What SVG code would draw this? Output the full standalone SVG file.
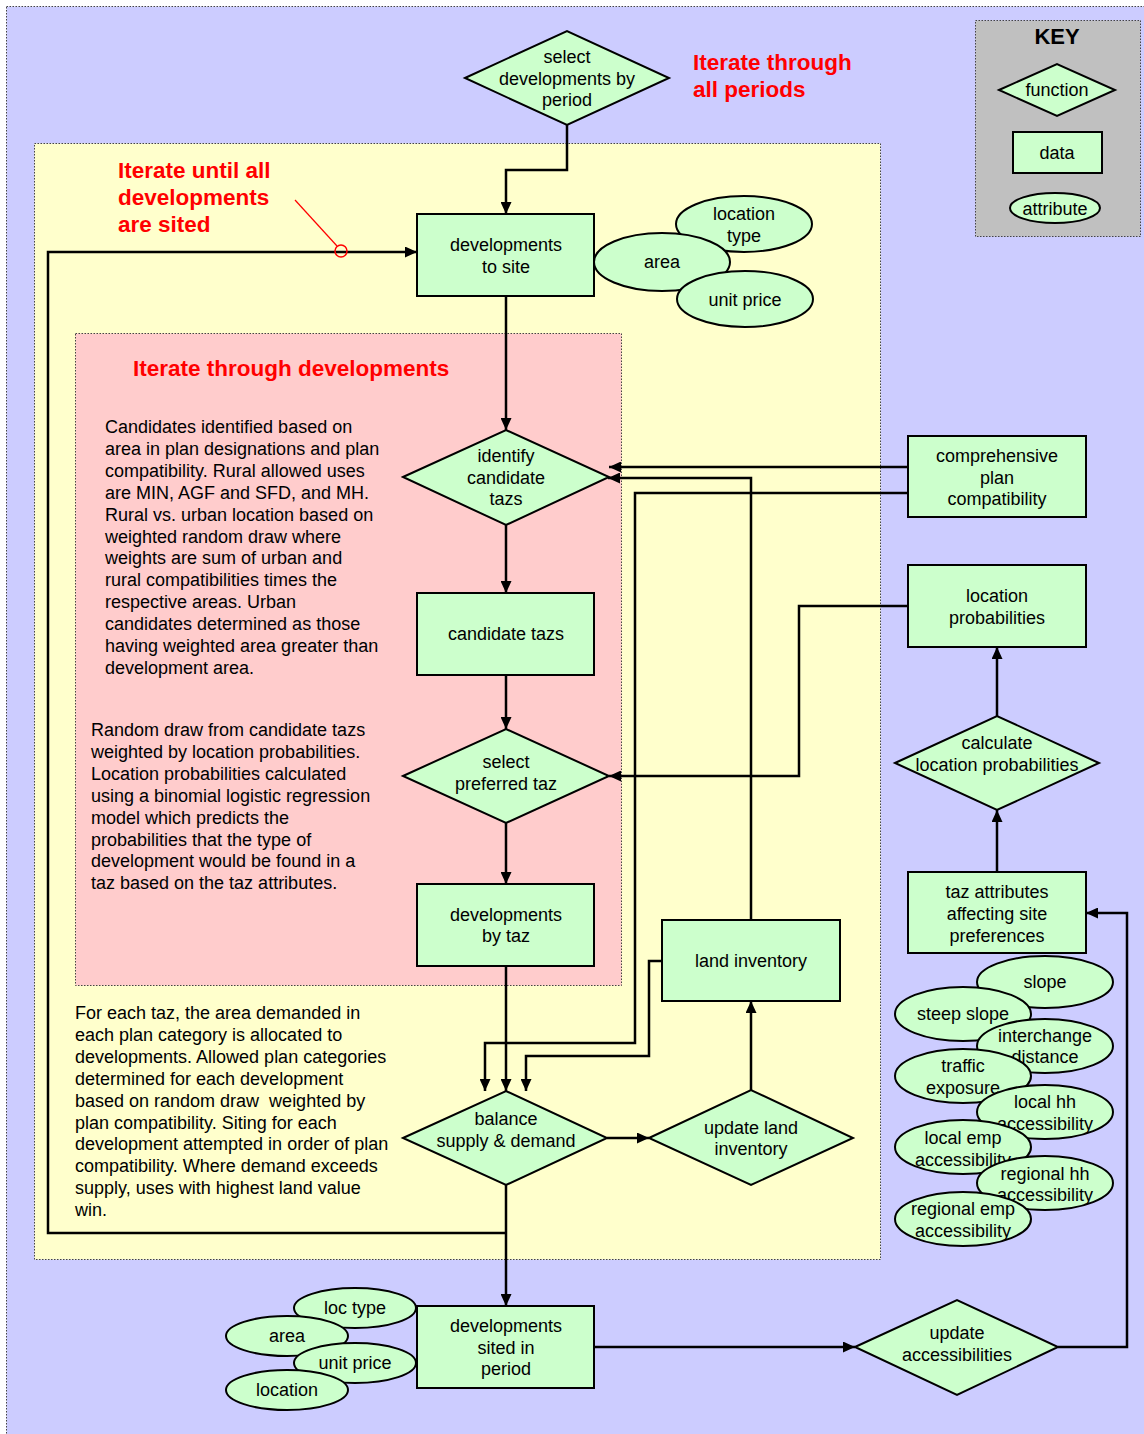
<svg xmlns="http://www.w3.org/2000/svg" width="1144" height="1434" viewBox="0 0 1144 1434">
<style>
text{font-family:"Liberation Sans",Arial,sans-serif;font-size:18px;fill:#000}
.c{text-anchor:middle}
.red{fill:#ff0000;font-weight:bold;font-size:22.5px}
.key{font-weight:bold;font-size:22px}
.n{fill:#ccffcc;stroke:#000;stroke-width:2}
.e{fill:#ccffcc;stroke:#000;stroke-width:2}
.zone{stroke:#444;stroke-width:1;stroke-dasharray:1.5 1.5}
.conn path{fill:none;stroke:#000;stroke-width:2.5}
.arr{marker-end:url(#ah)}
</style>
<defs>
<marker id="ah" viewBox="0 0 12 11" refX="12" refY="5.5" markerWidth="12" markerHeight="11" markerUnits="userSpaceOnUse" orient="auto">
<path d="M0,0 L12,5.5 L0,11 z" fill="#000"/>
</marker>
</defs>
<rect width="1144" height="1434" fill="#fff"/>
<rect class="zone" x="6.5" y="6.5" width="1150" height="1440" fill="#ccccff"/>
<rect class="zone" x="34.5" y="143.5" width="846" height="1116" fill="#ffffcc"/>
<rect class="zone" x="75.5" y="333.5" width="546" height="652" fill="#ffcccc"/>

<g id="key">
<rect class="zone" x="975.5" y="20.5" width="165" height="216" fill="#c0c0c0"/>
<text class="c key" x="1057" y="44">KEY</text>
<polygon class="n" points="999,90 1057,64 1115,90 1057,116"/>
<text class="c" x="1057" y="96">function</text>
<rect class="n" x="1013" y="132" width="89" height="41"/>
<text class="c" x="1057" y="159">data</text>
<ellipse class="e" cx="1055" cy="208" rx="45" ry="15"/>
<text class="c" x="1055" y="215">attribute</text>
</g>

<g id="labels">
<text class="red" x="693" y="70">Iterate through</text>
<text class="red" x="693" y="97">all periods</text>
<text class="red" x="118" y="178">Iterate until all</text>
<text class="red" x="118" y="205">developments</text>
<text class="red" x="118" y="232">are sited</text>
<text class="red" x="133" y="376">Iterate through developments</text>
<path d="M295,200 L337,246" stroke="#ff0000" stroke-width="1.2" fill="none"/>
</g>

<g id="notes">
<text x="105" y="433"><tspan x="105">Candidates identified based on</tspan><tspan x="105" dy="21.9">area in plan designations and plan</tspan><tspan x="105" dy="21.9">compatibility. Rural allowed uses</tspan><tspan x="105" dy="21.9">are MIN, AGF and SFD, and MH.</tspan><tspan x="105" dy="21.9">Rural vs. urban location based on</tspan><tspan x="105" dy="21.9">weighted random draw where</tspan><tspan x="105" dy="21.9">weights are sum of urban and</tspan><tspan x="105" dy="21.9">rural compatibilities times the</tspan><tspan x="105" dy="21.9">respective areas. Urban</tspan><tspan x="105" dy="21.9">candidates determined as those</tspan><tspan x="105" dy="21.9">having weighted area greater than</tspan><tspan x="105" dy="21.9">development area.</tspan></text>
<text x="91" y="736"><tspan x="91">Random draw from candidate tazs</tspan><tspan x="91" dy="21.9">weighted by location probabilities.</tspan><tspan x="91" dy="21.9">Location probabilities calculated</tspan><tspan x="91" dy="21.9">using a binomial logistic regression</tspan><tspan x="91" dy="21.9">model which predicts the</tspan><tspan x="91" dy="21.9">probabilities that the type of</tspan><tspan x="91" dy="21.9">development would be found in a</tspan><tspan x="91" dy="21.9">taz based on the taz attributes.</tspan></text>
<text x="75" y="1019"><tspan x="75">For each taz, the area demanded in</tspan><tspan x="75" dy="21.9">each plan category is allocated to</tspan><tspan x="75" dy="21.9">developments. Allowed plan categories</tspan><tspan x="75" dy="21.9">determined for each development</tspan><tspan x="75" dy="21.9" xml:space="preserve">based on random draw  weighted by</tspan><tspan x="75" dy="21.9">plan compatibility. Siting for each</tspan><tspan x="75" dy="21.9">development attempted in order of plan</tspan><tspan x="75" dy="21.9">compatibility. Where demand exceeds</tspan><tspan x="75" dy="21.9">supply, uses with highest land value</tspan><tspan x="75" dy="21.9">win.</tspan></text>
</g>

<g id="connectors" class="conn">
<path class="arr" d="M567,125 V170 H506 V214"/>
<path class="arr" d="M506,1233 H48 V252 H417"/>
<path class="arr" d="M506,296 V430"/>
<path class="arr" d="M506,525 V593"/>
<path class="arr" d="M506,675 V729"/>
<path class="arr" d="M506,823 V884"/>
<path class="arr" d="M506,966 V1091"/>
<path class="arr" d="M908,467 H609"/>
<path class="arr" d="M908,493 H635 V1043 H485 V1091"/>
<path class="arr" d="M751,920 V478 H608"/>
<path class="arr" d="M662,961 H649 V1056 H526 V1091"/>
<path class="arr" d="M607,1138 H649"/>
<path class="arr" d="M751,1090 V1001"/>
<path class="arr" d="M908,606 H799 V776 H609"/>
<path class="arr" d="M997,716 V647"/>
<path class="arr" d="M997,872 V810"/>
<path class="arr" d="M506,1185 V1306"/>
<path class="arr" d="M594,1347 H855"/>
<path class="arr" d="M1058,1347 H1127 V913 H1086"/>
</g>
<circle cx="341" cy="251" r="6" fill="none" stroke="#ff0000" stroke-width="1.5"/>

<g id="select-developments">
<polygon class="n" points="465,78 567,31 669,78 567,125"/>
<text class="c" x="567" y="63">select</text>
<text class="c" x="567" y="85">developments by</text>
<text class="c" x="567" y="106">period</text>
</g>

<g id="developments-to-site">
<rect class="n" x="417" y="214" width="177" height="82"/>
<text class="c" x="506" y="251">developments</text>
<text class="c" x="506" y="273">to site</text>
</g>
<g id="attr-location-type">
<ellipse class="e" cx="744" cy="224" rx="68" ry="28"/>
<text class="c" x="744" y="220">location</text>
<text class="c" x="744" y="242">type</text>
</g>
<g id="attr-area">
<ellipse class="e" cx="662" cy="262" rx="68" ry="29"/>
<text class="c" x="662" y="268">area</text>
</g>
<g id="attr-unit-price">
<ellipse class="e" cx="745" cy="299" rx="68" ry="28"/>
<text class="c" x="745" y="306">unit price</text>
</g>

<g id="identify-candidate-tazs">
<polygon class="n" points="403,477 506,430 609,477 506,525"/>
<text class="c" x="506" y="462">identify</text>
<text class="c" x="506" y="484">candidate</text>
<text class="c" x="506" y="505">tazs</text>
</g>
<g id="candidate-tazs">
<rect class="n" x="417" y="593" width="177" height="82"/>
<text class="c" x="506" y="640">candidate tazs</text>
</g>
<g id="select-preferred-taz">
<polygon class="n" points="403,776 506,729 609,776 506,823"/>
<text class="c" x="506" y="768">select</text>
<text class="c" x="506" y="790">preferred taz</text>
</g>
<g id="developments-by-taz">
<rect class="n" x="417" y="884" width="177" height="82"/>
<text class="c" x="506" y="921">developments</text>
<text class="c" x="506" y="942">by taz</text>
</g>
<g id="land-inventory">
<rect class="n" x="662" y="920" width="178" height="81"/>
<text class="c" x="751" y="967">land inventory</text>
</g>
<g id="balance">
<polygon class="n" points="403,1138 506,1091 607,1138 506,1185"/>
<text class="c" x="506" y="1125">balance</text>
<text class="c" x="506" y="1147">supply &amp; demand</text>
</g>
<g id="update-land-inventory">
<polygon class="n" points="649,1138 751,1090 853,1138 751,1185"/>
<text class="c" x="751" y="1134">update land</text>
<text class="c" x="751" y="1155">inventory</text>
</g>

<g id="comprehensive-plan">
<rect class="n" x="908" y="436" width="178" height="81"/>
<text class="c" x="997" y="462">comprehensive</text>
<text class="c" x="997" y="484">plan</text>
<text class="c" x="997" y="505">compatibility</text>
</g>
<g id="location-probabilities">
<rect class="n" x="908" y="565" width="178" height="82"/>
<text class="c" x="997" y="602">location</text>
<text class="c" x="997" y="624">probabilities</text>
</g>
<g id="calculate-location-probabilities">
<polygon class="n" points="895,763 997,716 1099,763 997,810"/>
<text class="c" x="997" y="749">calculate</text>
<text class="c" x="997" y="771">location probabilities</text>
</g>
<g id="taz-attributes">
<rect class="n" x="908" y="872" width="178" height="81"/>
<text class="c" x="997" y="898">taz attributes</text>
<text class="c" x="997" y="920">affecting site</text>
<text class="c" x="997" y="942">preferences</text>
</g>

<g id="attr-slope"><ellipse class="e" cx="1045" cy="982" rx="68" ry="26"/><text class="c" x="1045" y="988">slope</text></g>
<g id="attr-steep-slope"><ellipse class="e" cx="963" cy="1014" rx="68" ry="27"/><text class="c" x="963" y="1020">steep slope</text></g>
<g id="attr-interchange"><ellipse class="e" cx="1045" cy="1046" rx="68" ry="27"/><text class="c" x="1045" y="1042">interchange</text><text class="c" x="1045" y="1063">distance</text></g>
<g id="attr-traffic"><ellipse class="e" cx="963" cy="1076" rx="68" ry="27"/><text class="c" x="963" y="1072">traffic</text><text class="c" x="963" y="1094">exposure</text></g>
<g id="attr-local-hh"><ellipse class="e" cx="1045" cy="1112" rx="68" ry="27"/><text class="c" x="1045" y="1108">local hh</text><text class="c" x="1045" y="1130">accessibility</text></g>
<g id="attr-local-emp"><ellipse class="e" cx="963" cy="1147" rx="68" ry="27"/><text class="c" x="963" y="1144">local emp</text><text class="c" x="963" y="1166">accessibility</text></g>
<g id="attr-regional-hh"><ellipse class="e" cx="1045" cy="1183" rx="68" ry="27"/><text class="c" x="1045" y="1180">regional hh</text><text class="c" x="1045" y="1201">accessibility</text></g>
<g id="attr-regional-emp"><ellipse class="e" cx="963" cy="1219" rx="68" ry="27"/><text class="c" x="963" y="1215">regional emp</text><text class="c" x="963" y="1237">accessibility</text></g>

<g id="developments-sited">
<rect class="n" x="417" y="1306" width="177" height="82"/>
<text class="c" x="506" y="1332">developments</text>
<text class="c" x="506" y="1354">sited in</text>
<text class="c" x="506" y="1375">period</text>
</g>
<g id="attr-loc-type"><ellipse class="e" cx="355" cy="1308" rx="61" ry="20"/><text class="c" x="355" y="1314">loc type</text></g>
<g id="attr-area2"><ellipse class="e" cx="287" cy="1336" rx="61" ry="20"/><text class="c" x="287" y="1342">area</text></g>
<g id="attr-unit-price2"><ellipse class="e" cx="355" cy="1363" rx="61" ry="20"/><text class="c" x="355" y="1369">unit price</text></g>
<g id="attr-location"><ellipse class="e" cx="287" cy="1390" rx="61" ry="20"/><text class="c" x="287" y="1396">location</text></g>

<g id="update-accessibilities">
<polygon class="n" points="855,1347 957,1300 1058,1347 957,1395"/>
<text class="c" x="957" y="1339">update</text>
<text class="c" x="957" y="1361">accessibilities</text>
</g>
</svg>
